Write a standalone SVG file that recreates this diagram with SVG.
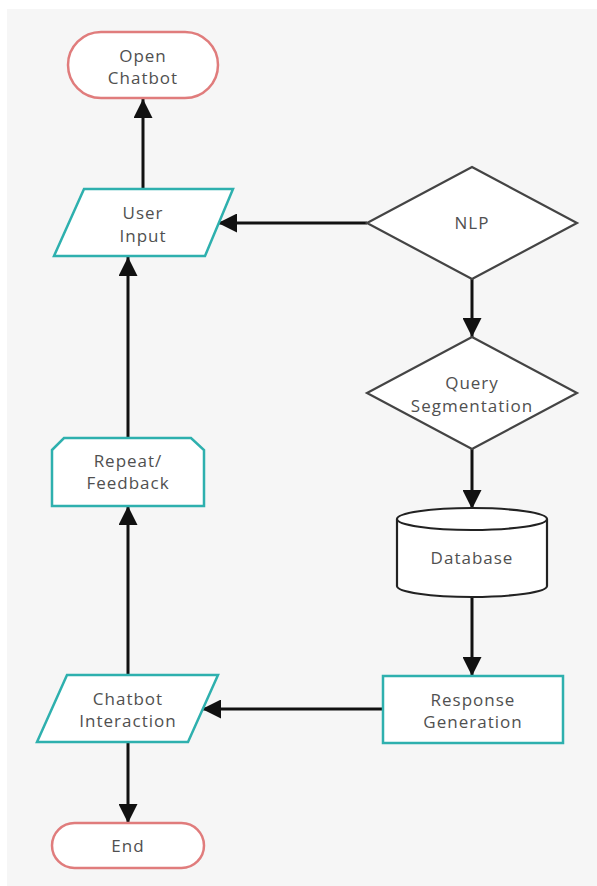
<svg xmlns="http://www.w3.org/2000/svg" width="597" height="886" viewBox="0 0 597 886">
<style>
.t{font-family:"Open Sans","Noto Sans",sans-serif;font-size:17px;letter-spacing:1px;fill:#505050;text-anchor:middle}
.term{fill:#fff;stroke:#e07c7c;stroke-width:2.5}
.io{fill:#fff;stroke:#2eb0ae;stroke-width:2.5}
.dec{fill:#fff;stroke:#444;stroke-width:2.2}
.db{fill:#fff;stroke:#222;stroke-width:2.2}
.c{fill:none;stroke:#111;stroke-width:3}
</style>
<defs>
<marker id="a" viewBox="0 0 10 10" refX="10" refY="5" markerWidth="19" markerHeight="19" markerUnits="userSpaceOnUse" orient="auto">
<path d="M0,0 L10,5 L0,10 Z" fill="#111"/>
</marker>
</defs>
<rect x="7" y="9" width="590" height="877" fill="#f6f6f6"/>
<g id="connectors">
<path class="c" d="M143,189 V99" marker-end="url(#a)"/>
<path class="c" d="M367,223 H218" marker-end="url(#a)"/>
<path class="c" d="M472,279 V337" marker-end="url(#a)"/>
<path class="c" d="M472,449 V509" marker-end="url(#a)"/>
<path class="c" d="M472,597 V676" marker-end="url(#a)"/>
<path class="c" d="M383,709 H202" marker-end="url(#a)"/>
<path class="c" d="M128,675 V506" marker-end="url(#a)"/>
<path class="c" d="M128,438 V257" marker-end="url(#a)"/>
<path class="c" d="M128,742 V823" marker-end="url(#a)"/>
</g>
<g id="open-chatbot">
<rect class="term" x="68" y="32" width="150" height="66" rx="33"/>
<text class="t" x="143" y="62">Open</text>
<text class="t" x="143" y="84">Chatbot</text>
</g>
<g id="user-input">
<polygon class="io" points="84,189 233,189 205,256 54,256"/>
<text class="t" x="143" y="219">User</text>
<text class="t" x="143" y="242">Input</text>
</g>
<g id="nlp">
<polygon class="dec" points="472,167 577,223 472,279 367,223"/>
<text class="t" x="472" y="229">NLP</text>
</g>
<g id="query-segmentation">
<polygon class="dec" points="472,337 577,393 472,449 367,393"/>
<text class="t" x="472" y="389">Query</text>
<text class="t" x="472" y="412">Segmentation</text>
</g>
<g id="database">
<path class="db" d="M397,519 V586 A75,11 0 0 0 547,586 V519"/>
<ellipse class="db" cx="472" cy="519" rx="75" ry="11"/>
<text class="t" x="472" y="564">Database</text>
</g>
<g id="response-generation">
<rect class="io" x="383" y="676" width="180" height="67"/>
<text class="t" x="473" y="706">Response</text>
<text class="t" x="473" y="728">Generation</text>
</g>
<g id="chatbot-interaction">
<polygon class="io" points="67,675 218,675 188,742 37,742"/>
<text class="t" x="128" y="705">Chatbot</text>
<text class="t" x="128" y="727">Interaction</text>
</g>
<g id="repeat-feedback">
<polygon class="io" points="52,450 64,438 191,438 204,450 204,506 52,506"/>
<text class="t" x="128" y="467">Repeat/</text>
<text class="t" x="128" y="489">Feedback</text>
</g>
<g id="end">
<rect class="term" x="52" y="823" width="152" height="45" rx="22.5"/>
<text class="t" x="128" y="852">End</text>
</g>
</svg>
